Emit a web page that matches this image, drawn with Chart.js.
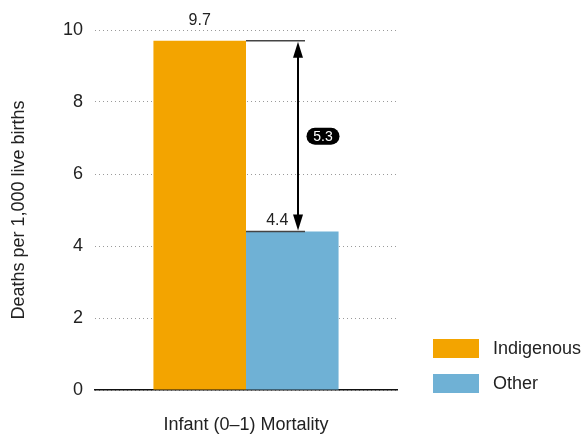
<!DOCTYPE html>
<html>
<head>
<meta charset="utf-8">
<script src="https://cdn.jsdelivr.net/npm/chart.js@4"></script>
<style>
  body { margin: 0; background: #fff; }
  #wrap { width: 587px; height: 434px; }
</style>
</head>
<body>
<div id="wrap"><canvas id="mortalityChart"></canvas></div>
<script>
const categories = ["Infant (0–1) Mortality"];
const seriesNames = ["Indigenous", "Other"];
const indigenousValues = [9.7];
const otherValues = [4.4];
const yTicks = [0, 2, 4, 6, 8, 10];
const seriesColors = ["#F3A400", "#6FB1D5"];

const font = "'Liberation Sans', Arial, sans-serif";
const textColor = "#222";

// value labels, gap bracket with arrow, and the 5.3 pill
const annotate = {
  id: "annotate",
  afterDatasetsDraw(chart) {
    const ctx = chart.ctx;
    const y = chart.scales.y;
    const barA = chart.getDatasetMeta(0).data[0];
    const barB = chart.getDatasetMeta(1).data[0];
    const yHigh = y.getPixelForValue(indigenousValues[0]);
    const yLow = y.getPixelForValue(otherValues[0]);
    const xStart = barA.x + barA.width / 2;
    const xEnd = xStart + 59;
    const xArrow = xStart + 52;

    ctx.save();
    ctx.fillStyle = textColor;
    ctx.font = "16px " + font;
    ctx.textAlign = "center";
    ctx.textBaseline = "middle";
    ctx.fillText(indigenousValues[0].toFixed(1), barA.x, yHigh - 20);
    ctx.fillText(otherValues[0].toFixed(1), barB.x - 15, yLow - 11);

    // bracket lines
    ctx.strokeStyle = "#444";
    ctx.lineWidth = 1.5;
    ctx.beginPath();
    ctx.moveTo(xStart, yHigh); ctx.lineTo(xEnd, yHigh);
    ctx.moveTo(xStart, yLow); ctx.lineTo(xEnd, yLow);
    ctx.stroke();

    // double-headed arrow
    const headH = 16, headW = 5;
    ctx.strokeStyle = "#000";
    ctx.fillStyle = "#000";
    ctx.lineWidth = 2;
    ctx.beginPath();
    ctx.moveTo(xArrow, yHigh + headH - 2);
    ctx.lineTo(xArrow, yLow - headH + 2);
    ctx.stroke();
    ctx.beginPath();
    ctx.moveTo(xArrow, yHigh + 1);
    ctx.lineTo(xArrow - headW, yHigh + 1 + headH);
    ctx.lineTo(xArrow + headW, yHigh + 1 + headH);
    ctx.closePath();
    ctx.fill();
    ctx.beginPath();
    ctx.moveTo(xArrow, yLow - 1);
    ctx.lineTo(xArrow - headW, yLow - 1 - headH);
    ctx.lineTo(xArrow + headW, yLow - 1 - headH);
    ctx.closePath();
    ctx.fill();

    // pill with the difference
    const gap = (indigenousValues[0] - otherValues[0]).toFixed(1);
    const cx = xArrow + 25, cy = (yHigh + yLow) / 2;
    const w = 33, h = 17, r = h / 2;
    ctx.beginPath();
    ctx.roundRect(cx - w / 2, cy - h / 2, w, h, r);
    ctx.fill();
    ctx.fillStyle = "#fff";
    ctx.font = "14px " + font;
    ctx.fillText(gap, cx, cy + 0.5);
    ctx.restore();
  }
};

// legend in the lower right
const sideLegend = {
  id: "sideLegend",
  afterDraw(chart) {
    const ctx = chart.ctx;
    const area = chart.chartArea;
    const x = area.right + 36;
    const n = chart.data.datasets.length;
    ctx.save();
    ctx.font = "18px " + font;
    ctx.textBaseline = "middle";
    chart.data.datasets.forEach((ds, i) => {
      const top = area.bottom + 3 - 19 - (n - 1 - i) * 35;
      ctx.fillStyle = ds.backgroundColor;
      ctx.fillRect(x, top, 46, 19);
      ctx.fillStyle = textColor;
      ctx.fillText(ds.label, x + 60, top + 10);
    });
    ctx.restore();
  }
};

new Chart("mortalityChart", {
  type: "bar",
  data: {
    labels: categories,
    datasets: [
      {
        label: seriesNames[0],
        data: indigenousValues,
        backgroundColor: seriesColors[0],
        barPercentage: 1,
        categoryPercentage: 0.613
      },
      {
        label: seriesNames[1],
        data: otherValues,
        backgroundColor: seriesColors[1],
        barPercentage: 1,
        categoryPercentage: 0.613
      }
    ]
  },
  options: {
    responsive: true,
    maintainAspectRatio: false,
    animation: false,
    layout: {
      padding: { top: 30, right: 190, left: 0, bottom: 0 }
    },
    plugins: {
      legend: { display: false },
      tooltip: { enabled: false }
    },
    scales: {
      x: {
        grid: { display: false, drawTicks: false },
        border: { display: true, color: "#111", width: 1.5 },
        ticks: {
          color: textColor,
          padding: 24,
          font: { family: font, size: 18 }
        },
        afterFit: (s) => { s.height = 44; }
      },
      y: {
        min: 0,
        max: 10,
        afterBuildTicks: (s) => { s.ticks = yTicks.map(v => ({ value: v })); },
        grid: { color: "#9a9a9a", lineWidth: 1, drawTicks: false },
        border: { display: false, dash: [1, 3] },
        ticks: {
          color: textColor,
          padding: 12,
          font: { family: font, size: 18 }
        },
        title: {
          display: true,
          text: "Deaths per 1,000 live births",
          color: textColor,
          padding: { top: 8, bottom: 0 },
          font: { family: font, size: 18 }
        },
        afterFit: (s) => { s.width = 95; }
      }
    }
  },
  plugins: [annotate, sideLegend]
});
</script>
</body>
</html>
